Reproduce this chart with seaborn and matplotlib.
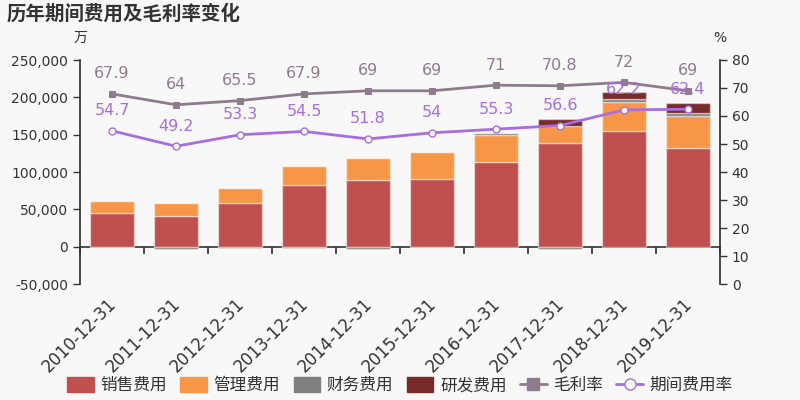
import numpy as np
import matplotlib
matplotlib.use('Agg')
import matplotlib.pyplot as plt
import matplotlib.transforms as mtransforms
import seaborn as sns
from matplotlib.ticker import FuncFormatter, FixedLocator, NullFormatter
from matplotlib.patches import FancyBboxPatch
from matplotlib.lines import Line2D

# data (万元 / %)
dates = ['2010-12-31', '2011-12-31', '2012-12-31', '2013-12-31', '2014-12-31',
         '2015-12-31', '2016-12-31', '2017-12-31', '2018-12-31', '2019-12-31']
sales_fee = [45000, 41500, 58400, 82000, 88700, 91000, 113200, 138600, 155500, 132400]
admin_fee = [16500, 16900, 20100, 26300, 30300, 35600, 37000, 23600, 38400, 42300]
finance_fee = [-1000, -3000, -2000, -2000, -3500, -500, 1500, -3000, 4000, 4500]
rd_fee = [0, 0, 0, 0, 0, 0, 0, 9000, 8900, 12900]
gross_margin = [67.9, 64, 65.5, 67.9, 69, 69, 71, 70.8, 72, 69]
period_rate = [54.7, 49.2, 53.3, 54.5, 51.8, 54, 55.3, 56.6, 62.2, 62.4]

series_names = ['销售费用', '管理费用', '财务费用', '研发费用']
series_colors = ['#c0504d', '#f79646', '#7f7f7f', '#772c2a']
gm_color = '#8e7c8e'
pr_color = '#a86de0'
bg = '#f8f8f8'
txt = '#333333'

sns.set_theme(style='white')
plt.rcParams['font.family'] = ['DejaVu Sans', 'Noto Sans CJK SC']
plt.rcParams['axes.unicode_minus'] = False

fig = plt.figure(figsize=(8, 4), dpi=100, facecolor=bg)
ax = fig.add_axes([0.1, 0.29, 0.8, 0.56], facecolor=bg)
ax2 = ax.twinx()

x = np.arange(len(dates))
pos_bottom = np.zeros(len(dates))
neg_bottom = np.zeros(len(dates))
for vals, color in zip([sales_fee, admin_fee, finance_fee, rd_fee], series_colors):
    vals = np.array(vals, dtype=float)
    bottoms = np.where(vals >= 0, pos_bottom, neg_bottom)
    ax.bar(x, vals, bottom=bottoms, width=0.7, color=color,
           edgecolor=(1, 1, 1, 0.45), linewidth=1, zorder=2)
    pos_bottom += np.where(vals > 0, vals, 0)
    neg_bottom += np.where(vals < 0, vals, 0)

# lines on the right axis
sns.lineplot(x=x, y=gross_margin, ax=ax2, color=gm_color, linewidth=2,
             marker='s', markersize=5, markeredgecolor=gm_color, zorder=3)
sns.lineplot(x=x, y=period_rate, ax=ax2, color=pr_color, linewidth=2,
             marker='o', markersize=5, markerfacecolor='white',
             markeredgecolor=pr_color, markeredgewidth=1, zorder=3)
for i in range(len(dates)):
    ax2.annotate(f'{gross_margin[i]:g}', (x[i], gross_margin[i]), xytext=(0, 9),
                 textcoords='offset points', ha='center', va='bottom',
                 color=gm_color, fontsize=11.5)
    ax2.annotate(f'{period_rate[i]:g}', (x[i], period_rate[i]), xytext=(0, 9),
                 textcoords='offset points', ha='center', va='bottom',
                 color=pr_color, fontsize=11.5)

# axes
ax.set_xlim(-0.5, len(dates) - 0.5)
ax.set_ylim(-50000, 250000)
ax.set_yticks(np.arange(-50000, 250001, 50000))
ax.yaxis.set_major_formatter(FuncFormatter(lambda v, p: f'{v:,.0f}'))
ax2.set_ylim(0, 80)
ax2.set_yticks(np.arange(0, 81, 10))

ax.set_xticks(x)
ax.set_xticklabels(dates, rotation=45, ha='right', rotation_mode='anchor',
                   fontsize=12, color=txt)
ax.tick_params(axis='x', length=0, pad=8)
shift = mtransforms.ScaledTranslation(-5 / 100, 0, fig.dpi_scale_trans)
for lab in ax.get_xticklabels():
    lab.set_transform(lab.get_transform() + shift)
ax.tick_params(axis='y', length=5, width=1, color=txt, labelsize=10, labelcolor=txt, left=True)
ax2.tick_params(axis='y', length=5, width=1, color=txt, labelsize=10, labelcolor=txt, right=True)

for a in (ax, ax2):
    for s in ['top', 'bottom']:
        a.spines[s].set_visible(False)
ax.spines['right'].set_visible(False)
ax.spines['left'].set_color(txt)
ax2.spines['left'].set_visible(False)
ax2.spines['right'].set_color(txt)

# zero line with boundary ticks
zero_frac = 50000 / 300000
sec = ax.secondary_xaxis(zero_frac)
sec.xaxis.set_major_locator(FixedLocator(np.arange(-0.5, len(dates), 1.0)))
sec.xaxis.set_major_formatter(NullFormatter())
sec.tick_params(axis='x', direction='out', length=5, color=txt)
sec.spines['bottom'].set_color(txt)
sec.spines['bottom'].set_linewidth(1.2)

# title and units
fig.text(0.008, 0.965, '历年期间费用及毛利率变化', fontsize=14, fontweight='bold',
         color=txt, ha='left', va='center')
fig.text(0.1, 0.905, '万', fontsize=10, color=txt, ha='center', va='center')
fig.text(0.9, 0.905, '%', fontsize=10, color=txt, ha='center', va='center')

# legend
handles = [FancyBboxPatch((0, 0), 1, 1, boxstyle='round,pad=0.1', color=c) for c in series_colors]
handles.append(Line2D([], [], color=gm_color, linewidth=2, marker='s', markersize=8))
handles.append(Line2D([], [], color=pr_color, linewidth=2, marker='o', markersize=8,
                      markerfacecolor='white', markeredgecolor=pr_color))
labels = series_names + ['毛利率', '期间费用率']
fig.legend(handles, labels, loc='center', bbox_to_anchor=(0.5, 0.037), ncol=6,
           frameon=False, fontsize=12, handlelength=1.6, handleheight=1.0,
           columnspacing=0.8, handletextpad=0.4, labelcolor=txt)

fig.savefig('out.png', dpi=100, facecolor=bg)
